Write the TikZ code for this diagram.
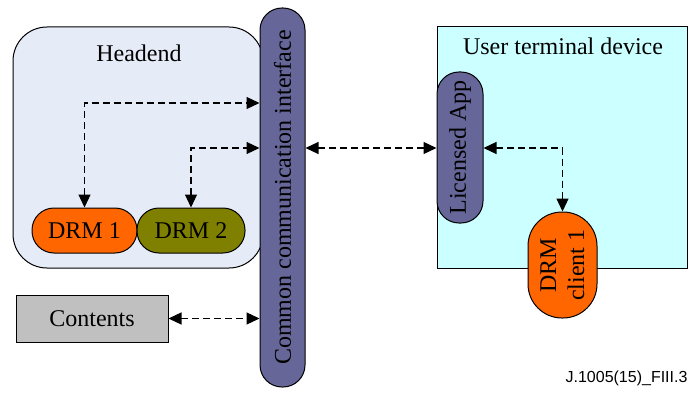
\documentclass[tikz,border=0pt]{standalone}
\usepackage{fontspec}
\setmainfont{Liberation Serif}
\newfontfamily\labelfont{Liberation Sans}
\usetikzlibrary{arrows.meta}
\definecolor{headfill}{HTML}{E6ECF7}
\definecolor{barfill}{HTML}{666699}
\definecolor{termfill}{HTML}{CCFFFF}
\definecolor{drmorange}{HTML}{FF6600}
\definecolor{drmolive}{HTML}{808000}
\definecolor{contentgray}{HTML}{C0C0C0}
\begin{document}
\begin{tikzpicture}[x=1pt,y=-1pt,
  font=\fontsize{24}{28}\selectfont,
  box/.style={draw=black, line width=1pt, inner sep=0pt},
  pill/.style={box, rounded corners=22pt},
  link/.style={dashed, dash pattern=on 7pt off 4pt, line width=1.2pt,
    {Triangle[length=13pt,width=12pt]}-{Triangle[length=13pt,width=12pt]}}]
\useasboundingbox (0,0) rectangle (693,393);

% headend group
\node[box, fill=headfill, rounded corners=34pt, minimum width=250pt, minimum height=241pt] (headend) at (138,147.5) {};
\node (headlbl) at (139,53) {Headend};
\node[pill, fill=drmorange, minimum width=105pt, minimum height=45pt] (drm1) at (84.5,230.5) {DRM 1};
\node[pill, fill=drmolive, minimum width=108pt, minimum height=45pt] (drm2) at (191,230.5) {DRM 2};

% common interface bar
\node[pill, fill=barfill, rotate=90, minimum width=379pt, minimum height=45pt] (cci) at (282.5,197.5) {Common communication interface};

% content source
\node[box, fill=contentgray, minimum width=152pt, minimum height=47pt] (contents) at (92,318.5) {Contents};

% user terminal
\node[box, fill=termfill, minimum width=250pt, minimum height=241pt] (term) at (562,147.5) {};
\node (termlbl) at (563,46) {User terminal device};
\node[pill, fill=barfill, rotate=90, minimum width=151pt, minimum height=46pt] (app) at (460,147.5) {Licensed App};
\node[box, rounded corners=34pt, fill=drmorange, rotate=90, align=center, minimum width=106pt, minimum height=69pt] (client) at (562.5,265) {DRM\\client 1};

% figure tag
\node[font=\labelfont\fontsize{16}{18}\selectfont, anchor=east] (tag) at (691,378) {J.1005(15)\_FIII.3};

% connectors
\coordinate (r1) at (0,103);
\coordinate (r2) at (0,148);
\draw[link] (drm1.north) |- (cci.north |- r1);
\draw[link] (drm2.north) |- (cci.north |- r2);
\draw[link] (cci.south |- r2) -- (app.north |- r2);
\draw[link] (app.south |- r2) -| (client.east);
\draw[link] (contents.east) -- (cci.north |- contents.east);
\end{tikzpicture}
\end{document}
